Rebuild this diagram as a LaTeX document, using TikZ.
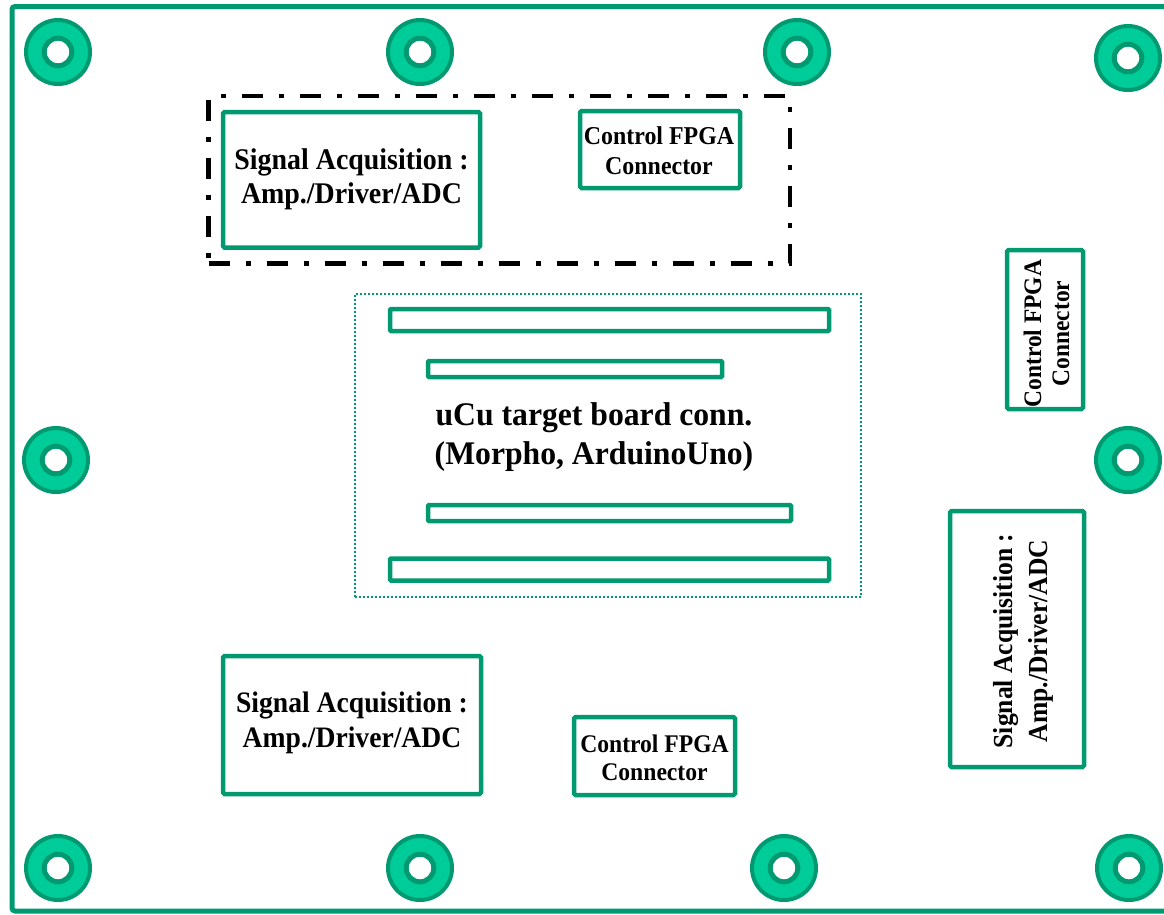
\documentclass[tikz,border=0pt]{standalone}
\usepackage{graphicx}
\usepackage{fontspec}
\setmainfont{Liberation Serif}

\definecolor{dkgreen}{RGB}{0,153,112}
\definecolor{ltgreen}{RGB}{0,204,153}

% bold, slightly condensed, centred multi-line label: scale, size, skip, text
\newcommand\lbl[4]{{\fontsize{#2}{#3}\selectfont\bfseries
  \scalebox{#1}[1]{\begin{tabular}{@{}c@{}}#4\end{tabular}}}}

\tikzset{
  gbox/.style={draw=dkgreen, line width=4.5pt, rounded corners=1.5pt,
               inner sep=0pt, outer sep=0pt},
  strip/.style={draw=dkgreen, line width=4.5pt, rounded corners=1pt,
                inner sep=0pt},
  holeouter/.style={circle, draw=dkgreen, fill=ltgreen, line width=4pt,
                    minimum size=64pt, inner sep=0pt},
  holeinner/.style={circle, draw=dkgreen, fill=white, line width=5pt,
                    minimum size=27.6pt, inner sep=0pt},
  groupframe/.style={draw=black, line width=4.5pt,
                     dash pattern=on 21pt off 16pt on 5pt off 16pt,
                     inner sep=0pt},
  areaframe/.style={draw=dkgreen, line width=2pt,
                    dash pattern=on 2pt off 2pt, inner sep=0pt},
  tag/.style={inner sep=0pt}
}

\begin{document}
\begin{tikzpicture}[x=1pt,y=-1pt]
\useasboundingbox (0,0) rectangle (1164,914);
\clip (0,0) rectangle (1164,914);

% board outline
\draw[dkgreen, line width=5pt, rounded corners=3pt]
  (1175,6.5) -- (12,6.5) -- (12,911) -- (1175,911);

% mounting holes
\foreach \n/\px/\py in {1/58/52, 2/420/52, 3/797/52, 4/1128/58,
                        5/56/460, 6/1128/460,
                        7/58/868, 8/420/868, 9/784/868, 10/1129/868} {
  \node[holeouter] (hole\n) at (\px,\py) {};
  \node[holeinner] (bore\n) at (hole\n) {};
}

% acquisition group frame
\node[groupframe, minimum width=581.5pt, minimum height=167.5pt]
  (group) at (499.25,179.75) {};

% signal acquisition blocks
\node[gbox, minimum width=257pt, minimum height=135.5pt] (sa1) at (351.5,179.75) {};
\node[tag] (sa1t) at (351.5,179.75)
  {\lbl{0.93}{30}{34}{Signal Acquisition :\\Amp./Driver/ADC}};
\node[gbox, minimum width=258pt, minimum height=138pt] (sa3) at (352,725) {};
\node[tag] (sa3t) at (352,723)
  {\lbl{0.93}{29.7}{35}{Signal Acquisition :\\Amp./Driver/ADC}};
\node[gbox, rotate=90, minimum width=256pt, minimum height=134pt] (sa2) at (1017,639) {};
\node[tag, rotate=90] (sa2t) at (1022.5,641)
  {\lbl{0.93}{27.5}{35}{Signal Acquisition :\\Amp./Driver/ADC}};

% FPGA connectors
\node[gbox, minimum width=160pt, minimum height=77pt] (cf1) at (660,149.5) {};
\node[tag] (cf1t) at (659,153.5)
  {\lbl{0.93}{25.7}{30}{Control FPGA\\Connector}};
\node[gbox, minimum width=161pt, minimum height=78pt] (cf3) at (654.5,756) {};
\node[tag] (cf3t) at (654.5,761)
  {\lbl{0.93}{25.4}{28}{Control FPGA\\Connector}};
\node[gbox, rotate=90, minimum width=159pt, minimum height=76pt] (cf2) at (1045,329.5) {};
\node[tag, rotate=90] (cf2t) at (1049.5,333.5)
  {\lbl{0.93}{25.2}{28}{Control FPGA\\Connector}};

% target board connector area
\node[areaframe, minimum width=506pt, minimum height=303pt] (ucu) at (608,445.5) {};
\node[strip, minimum width=439pt, minimum height=22pt] (hdr1) at (609.5,320) {};
\node[strip, minimum width=294pt, minimum height=16pt] (hdr2) at (575,369) {};
\node[strip, minimum width=363pt, minimum height=16pt] (hdr3) at (609.5,513) {};
\node[strip, minimum width=439pt, minimum height=22pt] (hdr4) at (609.5,569.5) {};
\node[tag] (ucutext) at (594,437)
  {\lbl{0.96}{33}{39}{uCu target board conn.\\(Morpho, ArduinoUno)}};

\end{tikzpicture}
\end{document}
